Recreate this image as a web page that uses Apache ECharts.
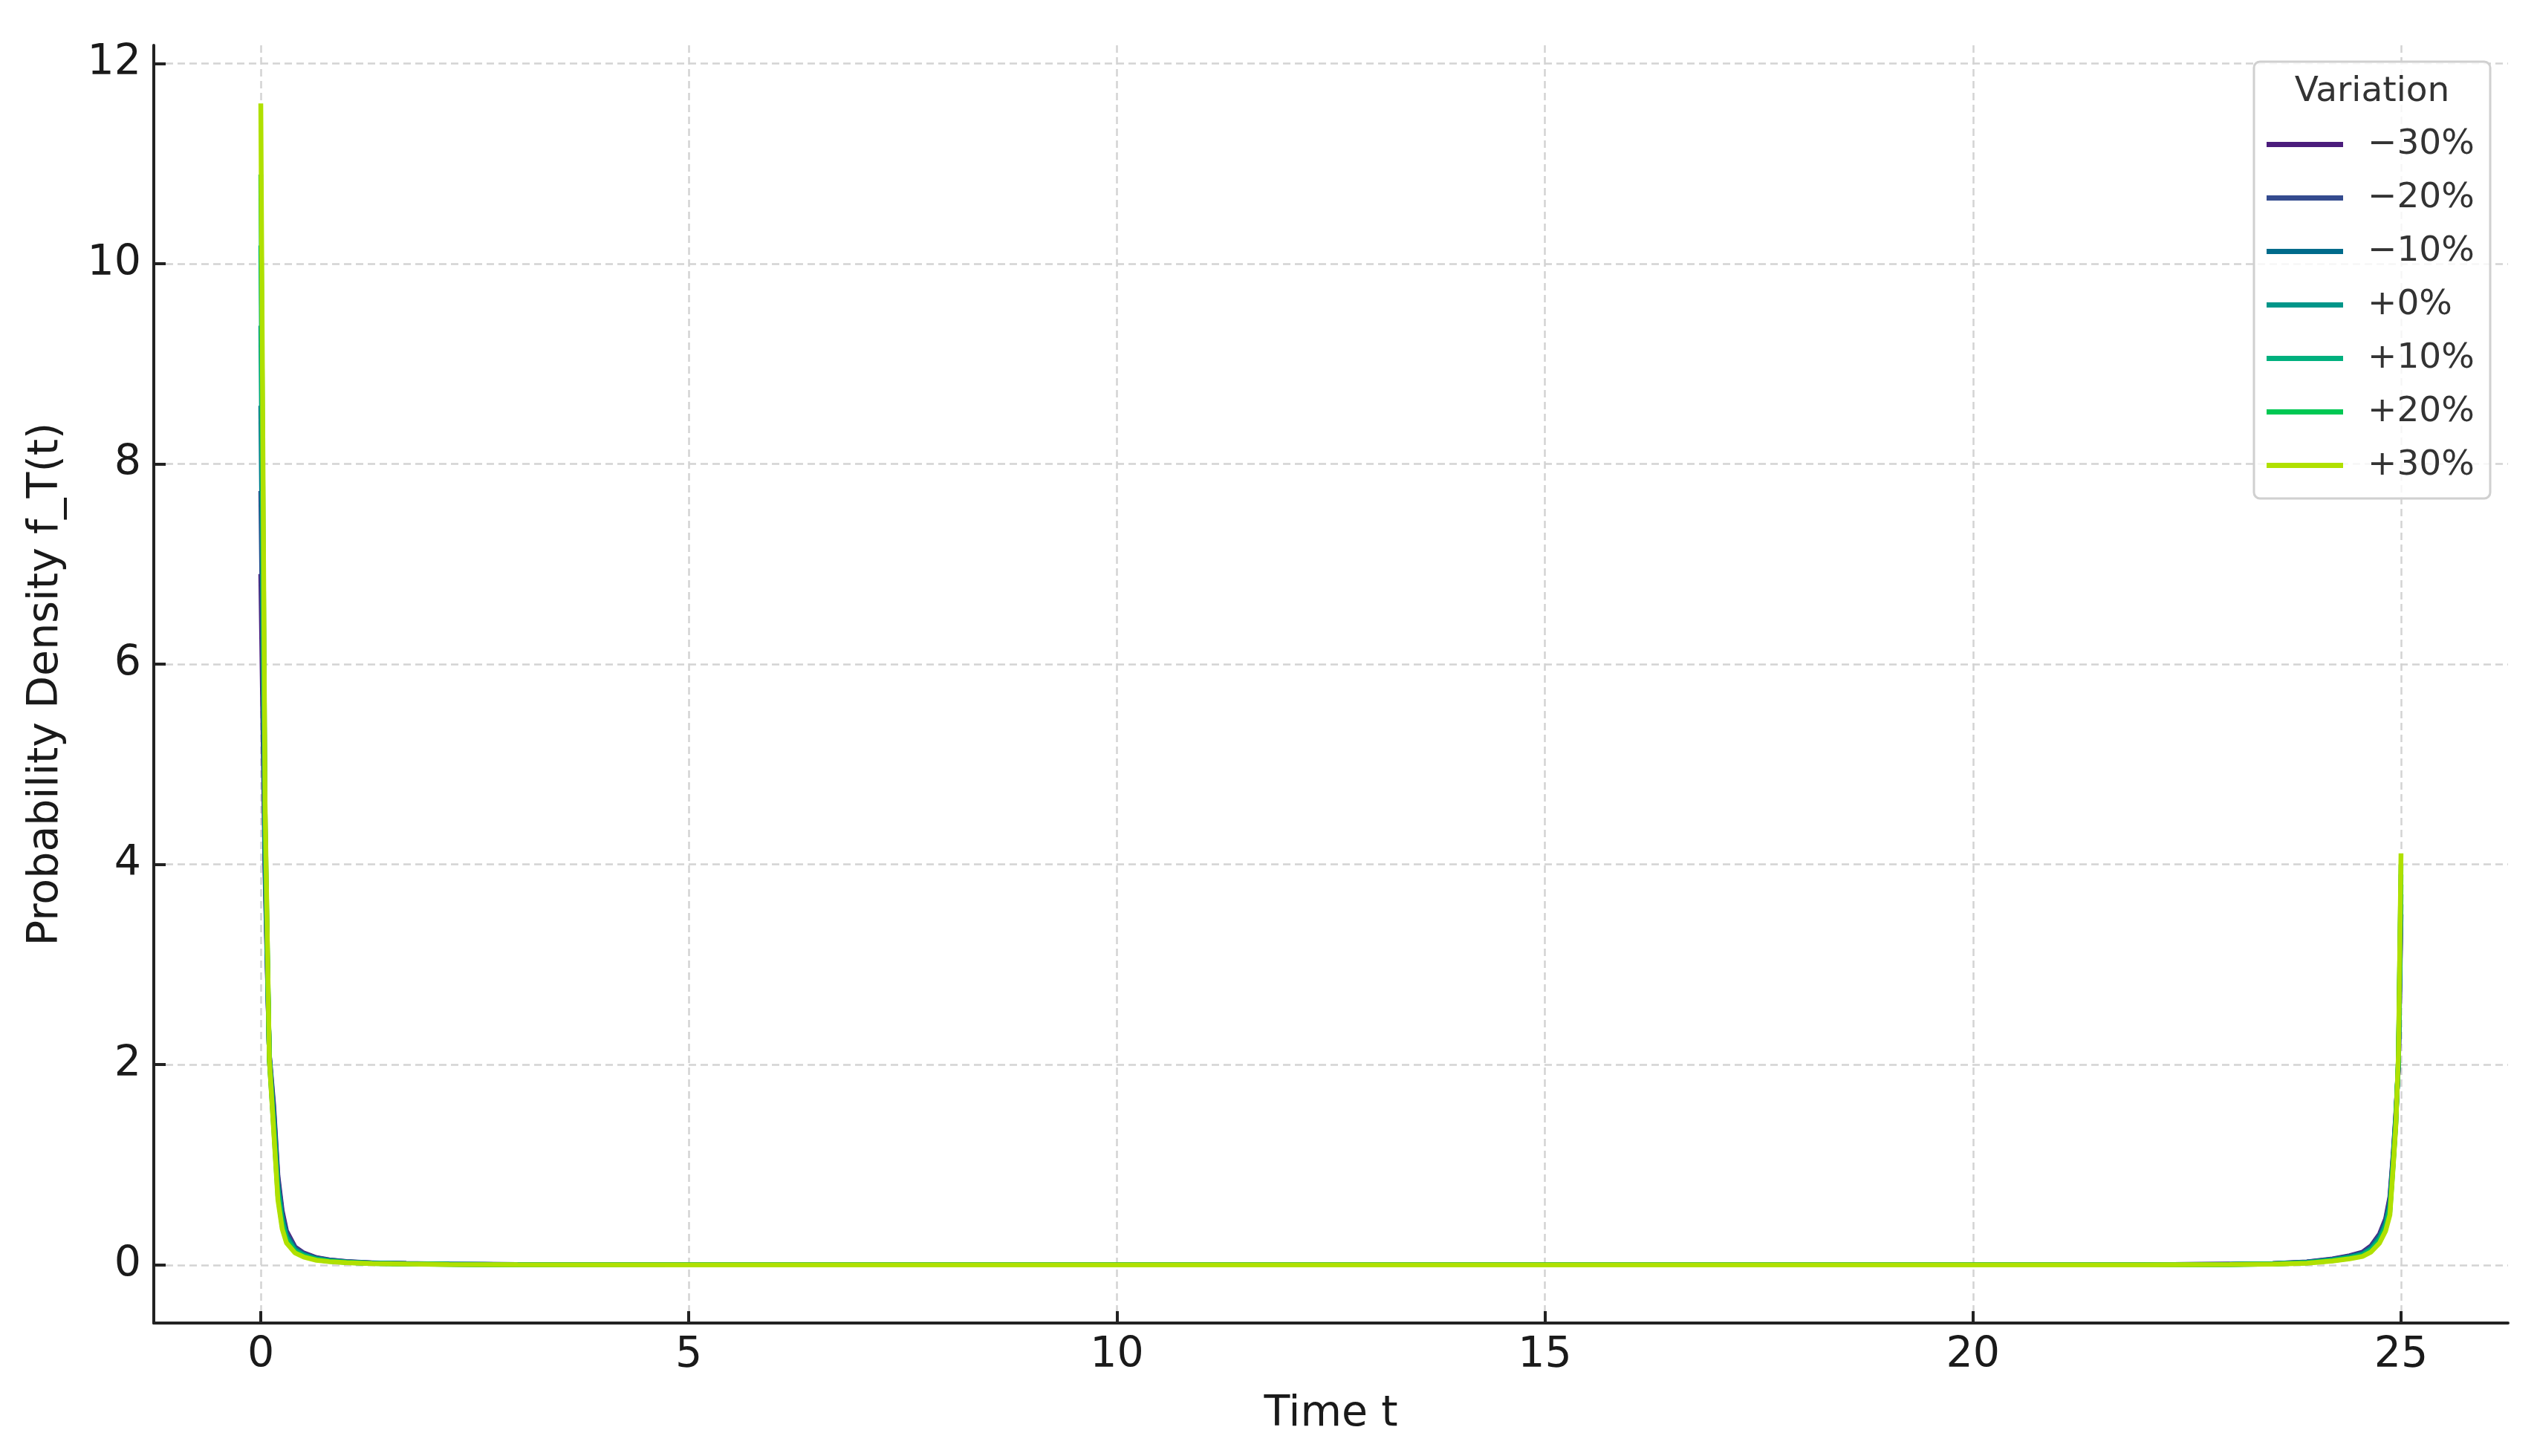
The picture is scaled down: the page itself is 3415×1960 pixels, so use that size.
<!DOCTYPE html>
<html>
<head>
<meta charset="utf-8">
<title>Probability Density f_T(t)</title>
<script src="https://cdn.jsdelivr.net/npm/echarts@6/dist/echarts.min.js"></script>
<style>
	html, body { margin: 0; padding: 0; background: #ffffff; }
	#chart { width: 3415px; height: 1960px; }
</style>
</head>
<body>
<div id="chart"></div>
<script>
	// time grid (denser near both spikes)
	var timeT = [0, 0.05, 0.1, 0.15, 0.2, 0.25, 0.3, 0.4, 0.5, 0.65, 0.8, 1.0, 1.3, 1.7, 2.2, 3, 5, 8, 12, 16, 20,
		22, 23, 23.5, 23.9, 24.2, 24.4, 24.55, 24.65, 24.75, 24.82, 24.87, 24.91, 24.94, 24.97, 25];

	var seriesNames = ['\u221230%', '\u221220%', '\u221210%', '+0%', '+10%', '+20%', '+30%'];
	var seriesColors = ['#4b1c7c', '#344b8f', '#006b8b', '#009689', '#00b07e', '#00c853', '#b0e000'];

	var densM30 = [6.9, 3.9, 2.1, 1.6, 0.89, 0.54, 0.34, 0.18, 0.12, 0.073, 0.051, 0.034, 0.021, 0.015, 0.008, 0.004, 0.001, 0, 0, 0, 0,
		0.002, 0.007, 0.014, 0.03, 0.06, 0.092, 0.127, 0.19, 0.31, 0.46, 0.68, 1.12, 1.52, 1.98, 3.5];
	var densM20 = [7.73, 4.0, 2.09, 1.55, 0.85, 0.51, 0.32, 0.17, 0.114, 0.069, 0.048, 0.032, 0.02, 0.014, 0.008, 0.004, 0.001, 0, 0, 0, 0,
		0.002, 0.007, 0.013, 0.028, 0.057, 0.087, 0.12, 0.18, 0.295, 0.44, 0.65, 1.1, 1.5, 2.0, 3.6];
	var densM10 = [8.58, 4.1, 2.08, 1.5, 0.81, 0.48, 0.3, 0.16, 0.107, 0.065, 0.045, 0.03, 0.019, 0.013, 0.007, 0.003, 0.001, 0, 0, 0, 0,
		0.002, 0.006, 0.012, 0.026, 0.053, 0.082, 0.113, 0.17, 0.28, 0.42, 0.62, 1.08, 1.48, 2.02, 3.7];
	var densP0 = [9.38, 4.2, 2.07, 1.46, 0.77, 0.45, 0.28, 0.15, 0.1, 0.06, 0.042, 0.028, 0.018, 0.012, 0.007, 0.003, 0.001, 0, 0, 0, 0,
		0.002, 0.006, 0.011, 0.024, 0.05, 0.077, 0.106, 0.16, 0.265, 0.4, 0.59, 1.06, 1.46, 2.04, 3.8];
	var densP10 = [10.18, 4.35, 2.06, 1.42, 0.73, 0.42, 0.26, 0.14, 0.094, 0.056, 0.039, 0.026, 0.016, 0.011, 0.006, 0.003, 0.001, 0, 0, 0, 0,
		0.002, 0.005, 0.01, 0.022, 0.046, 0.072, 0.099, 0.15, 0.25, 0.38, 0.56, 1.04, 1.44, 2.06, 3.9];
	var densP20 = [10.89, 4.5, 2.05, 1.38, 0.69, 0.39, 0.24, 0.13, 0.087, 0.052, 0.036, 0.024, 0.015, 0.01, 0.006, 0.002, 0.001, 0, 0, 0, 0,
		0.001, 0.005, 0.009, 0.02, 0.043, 0.067, 0.092, 0.14, 0.235, 0.36, 0.53, 1.02, 1.42, 2.08, 4.0];
	var densP30 = [11.6, 4.6, 2.05, 1.35, 0.65, 0.36, 0.22, 0.12, 0.08, 0.047, 0.033, 0.022, 0.014, 0.009, 0.005, 0.002, 0.001, 0, 0, 0, 0,
		0.001, 0.004, 0.008, 0.018, 0.04, 0.062, 0.085, 0.13, 0.22, 0.34, 0.5, 1.0, 1.4, 2.1, 4.11];

	var xTicks = [0, 5, 10, 15, 20, 25];
	var yTicks = [0, 2, 4, 6, 8, 10, 12];

	var allDens = [densM30, densM20, densM10, densP0, densP10, densP20, densP30];

	var fontName = 'DejaVu Sans';
	var gridLine = { color: '#d3d3d3', width: 2.5, type: [10, 6] };
	var spine = { color: '#222222', width: 4 };

	function toPairs(values) {
		var arr = [];
		for (var i = 0; i < timeT.length; i++) {
			arr.push([timeT[i], values[i]]);
		}
		return arr;
	}

	var myChart = echarts.init(document.getElementById('chart'), null, { renderer: 'canvas' });

	var option = {
		backgroundColor: '#ffffff',
		animation: false,
		grid: { left: 207, right: 39, top: 61, bottom: 179, containLabel: false },
		xAxis: {
			type: 'value',
			min: -1.25,
			max: 26.25,
			name: 'Time t',
			nameLocation: 'middle',
			nameGap: 95,
			nameTextStyle: { fontFamily: fontName, fontSize: 57, color: '#1a1a1a' },
			axisLine: { show: true, onZero: false, lineStyle: spine },
			axisTick: { show: true, inside: true, length: 16, lineStyle: spine, customValues: xTicks },
			axisLabel: { show: true, margin: 16, fontFamily: fontName, fontSize: 57, color: '#1a1a1a', customValues: xTicks },
			splitLine: { show: true, lineStyle: gridLine }
		},
		yAxis: {
			type: 'value',
			min: -0.58,
			max: 12.18,
			name: 'Probability Density f_T(t)',
			nameLocation: 'middle',
			nameGap: 116,
			nameRotate: 90,
			nameTextStyle: { fontFamily: fontName, fontSize: 57, color: '#1a1a1a' },
			axisLine: { show: true, onZero: false, lineStyle: spine },
			axisTick: { show: true, inside: true, length: 16, lineStyle: spine, customValues: yTicks },
			axisLabel: { show: true, margin: 17, fontFamily: fontName, fontSize: 57, color: '#1a1a1a', customValues: yTicks },
			splitLine: { show: true, lineStyle: gridLine }
		},
		legend: {
			orient: 'vertical',
			left: 3046,
			top: 166,
			itemWidth: 103,
			itemHeight: 7,
			itemGap: 25,
			icon: 'rect',
			data: seriesNames,
			textStyle: { fontFamily: fontName, fontSize: 47, color: '#333333', padding: [0, 0, 0, 28] },
			z: 12
		},
		graphic: [{
			type: 'rect',
			z: 10,
			shape: { x: 3034, y: 83, width: 318, height: 588, r: 8 },
			style: { fill: 'rgba(255,255,255,0.8)', stroke: '#d0d0d0', lineWidth: 3 }
		}, {
			type: 'text',
			z: 11,
			x: 3193,
			y: 124,
			style: { text: 'Variation', font: '47px "DejaVu Sans"', fill: '#333333', align: 'center', verticalAlign: 'middle' }
		}],
		series: (function() {
			var arr = [];
			for (var i = 0; i < seriesNames.length; i++) {
				arr.push({
					name: seriesNames[i],
					type: 'line',
					symbol: 'none',
					showSymbol: false,
					data: toPairs(allDens[i]),
					itemStyle: { color: seriesColors[i] },
					lineStyle: { color: seriesColors[i], width: 6.5 },
					z: 2 + i
				});
			}
			return arr;
		})()
	};

	myChart.setOption(option);
</script>
</body>
</html>
